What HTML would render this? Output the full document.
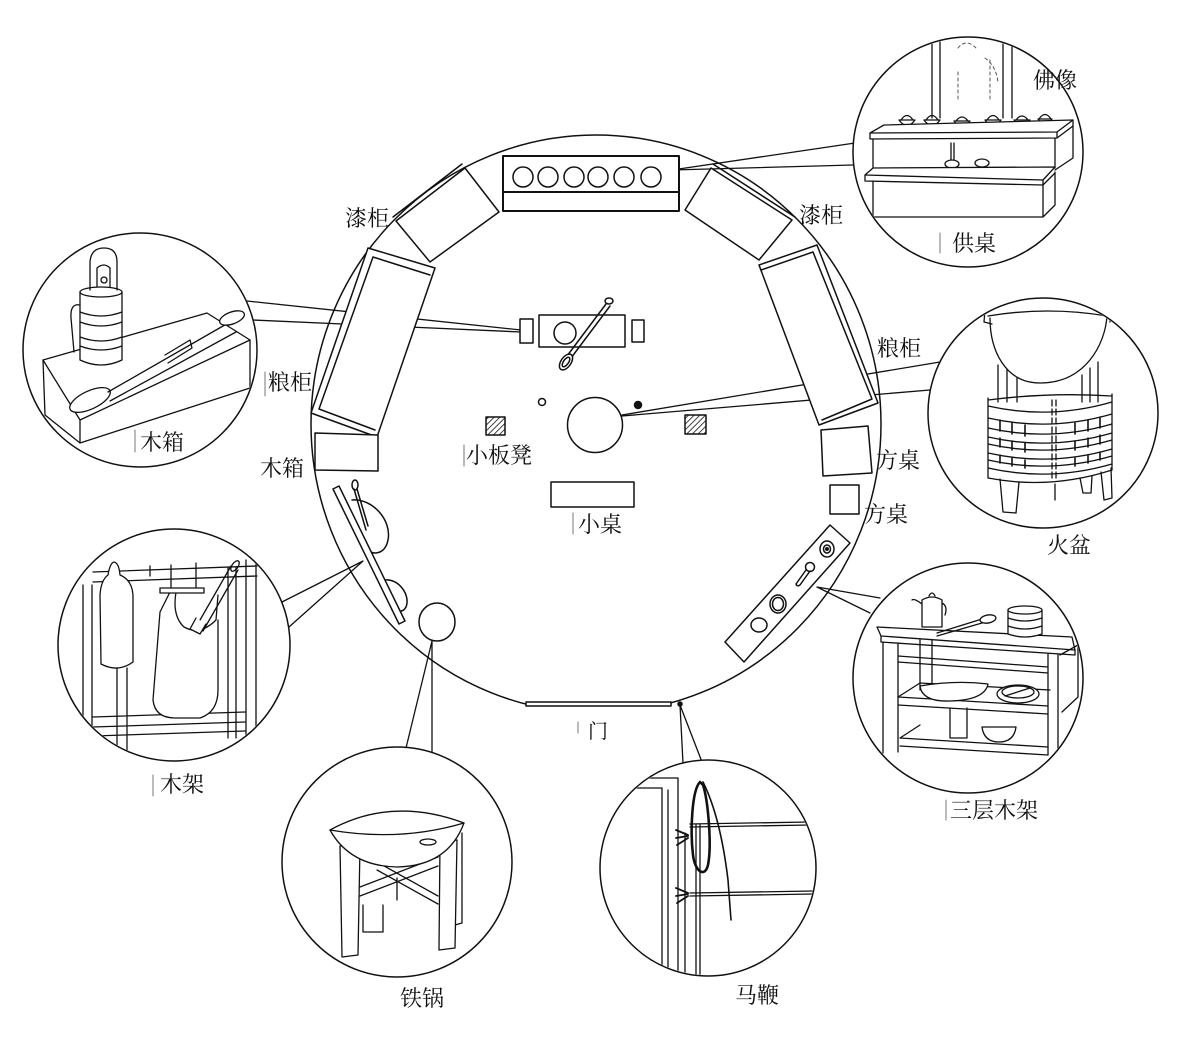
<!DOCTYPE html>
<html><head><meta charset="utf-8">
<style>
html,body{margin:0;padding:0;background:#fff;}
svg{display:block;}
text{font-family:"Liberation Serif","Noto Serif CJK SC","Noto Sans CJK SC",serif;font-size:22px;fill:#111;}
</style></head><body>
<svg width="1184" height="1059" viewBox="0 0 1184 1059" xmlns="http://www.w3.org/2000/svg">
<defs>
 <pattern id="hat" width="4" height="4" patternUnits="userSpaceOnUse" patternTransform="rotate(45)"><rect width="4" height="4" fill="#fff"/><line x1="0" y1="0" x2="0" y2="4" stroke="#111" stroke-width="1.6"/></pattern>
 <clipPath id="cA"><circle cx="968" cy="152" r="114"/></clipPath>
 <clipPath id="cB"><circle cx="140" cy="350" r="116"/></clipPath>
 <clipPath id="cC"><circle cx="1043" cy="413" r="114"/></clipPath>
 <clipPath id="cD"><circle cx="174" cy="645" r="115"/></clipPath>
 <clipPath id="cE"><circle cx="968" cy="678" r="114"/></clipPath>
 <clipPath id="cF"><circle cx="397" cy="862" r="114"/></clipPath>
 <clipPath id="cG"><circle cx="708" cy="868" r="107"/></clipPath>
</defs>
<rect width="1184" height="1059" fill="#fff"/>
<g fill="none" stroke="#111" stroke-width="1.5" stroke-linejoin="round" stroke-linecap="round">

<!-- connectors -->
<g stroke-width="1.3">
 <path d="M672,170 L855,143 M672,170 L853,165"/>
 <path d="M247,301 L521,330 M253,320 L521,332"/>
 <path d="M622,415 L940,362 M622,416 L930,390"/>
 <path d="M280,603 L363,561 M289,627 L363,561"/>
 <path d="M817,587 L880,598 M817,587 L870,613"/>
 <path d="M432,641 L432,753 M432,641 L406,748"/>
 <path d="M680,705 L683,763 M680,705 L702,762"/>
</g>

<!-- main circle -->
<ellipse cx="596" cy="424" rx="285" ry="289"/>
<rect x="527" y="706" width="143" height="10" fill="#fff" stroke="none"/>

<!-- top altar box -->
<rect x="503" y="156" width="176" height="55" fill="#fff" stroke-width="2"/>
<line x1="503" y1="192" x2="679" y2="192" stroke-width="2"/>
<circle cx="523" cy="177" r="10"/><circle cx="548" cy="177" r="10"/><circle cx="574" cy="177" r="10"/>
<circle cx="598" cy="177" r="10"/><circle cx="624" cy="177" r="10"/><circle cx="651" cy="177" r="10"/>

<!-- 漆柜 -->
<polygon points="396,221 465,168 499,212 430,262" fill="#fff"/>
<path d="M393,217 L462,164"/>
<polygon points="685,210 711,168 792,220 759,260" fill="#fff"/>
<path d="M713,164 L795,217"/>

<!-- 粮柜 -->
<polygon points="368,248 435,268 377,437 311,413" fill="#fff"/>
<polyline points="430,275 373,257 319,409 375,430"/>
<polygon points="759,265 817,245 878,403 819,425" fill="#fff"/>
<polyline points="761,270 813,252 872,399 822,420"/>

<!-- 木箱 main -->
<polygon points="315,433 378,435 378,471 315,470" fill="#fff"/>

<!-- 方桌 -->
<polygon points="821,430 868,426 872,473 823,476" fill="#fff"/>
<rect x="830" y="485" width="29" height="29" fill="#fff"/>

<!-- stove (三层木架 plan) -->
<polygon points="725,642 830,525 850,543 744,662" fill="#fff"/>
<ellipse cx="827" cy="549" rx="7" ry="8"/><ellipse cx="827" cy="549" rx="3.5" ry="4"/><circle cx="827" cy="549" r="1.2" fill="#111"/>
<circle cx="810" cy="567" r="4.5"/><path d="M806,570 L796,584 Q797,587 800,585 L810,571"/>
<ellipse cx="778" cy="604" rx="8" ry="9"/><ellipse cx="778" cy="604" rx="5.5" ry="6.5"/>
<ellipse cx="759" cy="625" rx="8" ry="7"/>

<!-- rack bar (木架 plan) -->
<path d="M352,500 C372,498 392,520 388,540 C385,555 372,556 365,548"/>
<path d="M385,580 C398,578 411,595 406,607 C403,613 396,612 392,610"/>
<polygon points="333,489 339,486 405,621 399,624" fill="#fff"/>
<ellipse cx="355" cy="485" rx="3" ry="5"/>
<path d="M354,489 L366,530 M357,489 L368,526"/>

<!-- 铁锅 plan -->
<ellipse cx="437" cy="622" rx="18" ry="19" fill="#fff"/>

<!-- spoon box -->
<rect x="539" y="315" width="86" height="32" fill="#fff"/>
<circle cx="565" cy="333" r="11"/>
<rect x="520" y="319" width="13" height="24" fill="#fff"/>
<rect x="632" y="320" width="12" height="22" fill="#fff"/>
<path d="M606,304 L567,356 M610,306 L571,358"/>
<ellipse cx="609" cy="301" rx="4" ry="3"/>
<ellipse cx="566" cy="362" rx="5" ry="9" transform="rotate(35 566 362)" fill="#fff"/>
<ellipse cx="566" cy="362" rx="2.5" ry="5.5" transform="rotate(35 566 362)"/>

<!-- small things -->
<circle cx="542" cy="402" r="3.5"/>
<circle cx="638" cy="405" r="3.5" fill="#111"/>
<circle cx="595" cy="425" r="27.5" fill="#fff"/>
<rect x="486" y="417" width="19" height="18" fill="url(#hat)"/>
<rect x="685" y="415" width="21" height="19" fill="url(#hat)"/>
<rect x="551" y="482" width="83" height="25" fill="#fff"/>

<!-- door -->
<rect x="526" y="702" width="145" height="4" fill="#fff"/>
<circle cx="680" cy="704" r="2" fill="#111"/>

<!-- vignette circles -->
<circle cx="968" cy="152" r="115" fill="#fff"/>
<circle cx="140" cy="350" r="117" fill="#fff"/>
<circle cx="1043" cy="413" r="115" fill="#fff"/>
<circle cx="174" cy="645" r="116" fill="#fff"/>
<circle cx="968" cy="678" r="115" fill="#fff"/>
<circle cx="397" cy="862" r="115" fill="#fff"/>
<circle cx="708" cy="868" r="108" fill="#fff"/>

<!-- A: 供桌 -->
<g clip-path="url(#cA)" stroke-width="1.3">
 <path d="M932,30 V118 M940,30 V118 M1003,30 V118 M1012,30 V118"/>
 <path d="M958,48 Q966,38 976,48 M985,58 Q996,66 998,82 M958,72 V100 M990,60 V100" stroke="#555" stroke-dasharray="3 3" stroke-width="1"/>
 <path d="M899,120 Q907,131 915,120 Z M901,120 Q907,111 913,120"/>
 <path d="M924,120 Q932,131 940,120 Z M926,120 Q932,111 938,120"/>
 <path d="M954,121 Q962,132 970,121 Z M956,121 Q962,113 968,121"/>
 <path d="M985,120 Q993,131 1001,120 Z M987,120 Q993,111 999,120"/>
 <path d="M1014,120 Q1022,130 1030,120 Z M1016,120 Q1022,112 1028,120"/>
 <path d="M1038,119 Q1045,129 1052,119 Z M1039,119 Q1045,110 1051,119"/>
 <path d="M870,133 L884,125 L1073,120 L1057,132 Z" fill="#fff"/>
 <path d="M870,133 V139 L1057,138 V132 M1057,138 L1073,126 V120"/>
 <path d="M873,139 V168 M1055,138 V168 M1073,126 V158 L1055,170"/>
 <path d="M951,143 V160 M954,143 V160"/>
 <ellipse cx="952" cy="164" rx="7" ry="4" fill="#fff"/>
 <ellipse cx="982" cy="163" rx="7" ry="4" fill="#fff"/>
 <path d="M865,175 L873,168 L1055,167 L1043,180 Z" fill="#fff"/>
 <path d="M865,175 V181 L1043,185 V180 M1043,185 L1055,173"/>
 <path d="M873,181 V217 L1043,217 V185 M1055,172 V205 L1043,217"/>
</g>

<!-- B: 木箱 -->
<g clip-path="url(#cB)" stroke-width="1.3">
 <path d="M43,360 L207,313 L250,340 L80,420 Z" fill="#fff"/>
 <path d="M43,360 L45,415 L80,443 L250,388 L250,340 M80,420 V443"/>
 <path d="M80,292 V360 Q101,370 122,360 V292" fill="#fff"/>
 <ellipse cx="101" cy="292" rx="21" ry="5" fill="#fff"/>
 <path d="M80,312 Q101,320 122,312 M80,322 Q101,330 122,322 M80,337 Q101,345 122,337 M80,346 Q101,354 122,346"/>
 <path d="M90,290 V262 Q91,248 104,248 Q117,248 117,262 V290"/>
 <path d="M97,287 V268 Q104,262 110,268 V287"/>
 <circle cx="104" cy="280" r="3"/>
 <path d="M80,305 Q70,303 71,318 L74,352"/>
 <ellipse cx="90" cy="400" rx="22" ry="9" transform="rotate(-25 90 400)" fill="#fff"/>
 <path d="M108,392 L230,322 M110,401 L236,332"/>
 <ellipse cx="232" cy="318" rx="13" ry="6" transform="rotate(-20 232 318)" fill="#fff"/>
 <path d="M165,355 L190,340 L192,348 L168,363"/>
</g>

<!-- C: 火盆 -->
<g clip-path="url(#cC)" stroke-width="1.3">
 <path d="M998,365 V402 M1007,365 V402 M1017,378 V402 M1082,375 V402 M1090,368 V402 M1098,362 V402"/>
 <path d="M988,316 Q1048,306 1107,316 C1105,345 1085,383 1040,383 C1005,383 990,350 990,318" fill="#fff"/>
 <path d="M985,310 L984,322 L992,324 M1102,312 L1110,312 L1110,322"/>
 <path d="M988,400 Q1050,392 1112,396"/>
 <path d="M988,406 Q1050,420 1112,402 M988,418 Q1050,432 1112,414 M988,428 Q1050,442 1112,424 M988,437 Q1050,451 1112,433 M988,444 Q1050,458 1112,440 M988,453 Q1050,467 1112,449 M988,460 Q1050,474 1112,456 M988,468 Q1050,482 1112,464"/>
 <path d="M1000,420 V431 M1012,423 V434 M1025,425 V436 M1075,423 V434 M1088,420 V431 M1100,417 V428 M1000,438 V447 M1012,441 V450 M1025,443 V452 M1075,441 V450 M1088,438 V447 M1100,435 V444 M1000,455 V463 M1012,458 V466 M1025,460 V468 M1075,458 V466 M1088,455 V463 M1100,452 V460" stroke-width="1.6"/>
 <path d="M988,398 V478 M1112,394 V470 M988,478 Q1050,490 1112,470"/>
 <path d="M1052,400 V480 M1056,400 V480" stroke-dasharray="6 3"/>
 <path d="M1000,479 L1003,512 L1016,513 L1019,482 M1080,478 L1083,493 L1091,493 L1092,476 M1101,472 L1104,500 L1112,498 L1111,468 M1055,484 V500"/>
</g>

<!-- D: 木架 -->
<g clip-path="url(#cD)" stroke-width="1.3">
 <path d="M83,585 V760 M92,585 V760"/>
 <path d="M93,572 L257,566 M93,582 L257,576"/>
 <path d="M228,568 V738 M236,568 V738 M246,560 V745 M256,560 V745"/>
 <path d="M93,717 L245,712 M93,727 L245,722 M93,736 L245,731"/>
 <path d="M117,668 V760 M127,668 V760"/>
 <path d="M108,575 Q110,563 114,562 Q119,563 120,575 Q132,580 133,595 L133,662 Q118,673 101,664 L100,595 Q101,580 108,575 Z" fill="#fff"/>
 <path d="M170,592 L160,612 L153,700 Q155,718 175,718 L200,718 Q218,712 218,690 L218,620" fill="#fff"/>
 <path d="M176,592 Q172,616 184,627 Q200,636 216,620 L218,595" fill="#fff"/>
 <rect x="160" y="588" width="44" height="5" fill="#fff"/>
 <path d="M171,565 V588 M196,563 V588 M150,566 V576"/>
 <path d="M231,566 L196,627 M238,570 L203,631"/>
 <ellipse cx="235" cy="566" rx="6" ry="3" transform="rotate(-55 235 566)"/>
 <path d="M196,618 L190,629 L200,634 L206,624" fill="#fff"/>
</g>

<!-- E: 三层木架 -->
<g clip-path="url(#cE)" stroke-width="1.3">
 <path d="M877,627 L1072,637 L1075,650 L881,636 Z" fill="#fff"/>
 <path d="M881,636 V642 L1075,655 V650"/>
 <path d="M883,642 V753 M898,643 V752 M1048,654 V755 M1058,655 V752"/>
 <path d="M1060,655 L1078,645 V697 L1062,712"/>
 <path d="M920,640 V690 M932,640 V690"/>
 <path d="M898,656 L1048,667 M898,662 L1048,673"/>
 <path d="M898,697 L920,683 L1050,690 M898,697 L1048,706 M898,705 L1048,714"/>
 <path d="M900,738 L920,725 M900,738 L1048,747 M900,746 L1048,755"/>
 <path d="M922,627 V600 Q932,594 942,600 V627 Z M922,604 Q914,598 912,600 M942,603 Q948,606 945,615" fill="#fff"/>
 <path d="M929,596 Q932,590 935,596"/>
 <path d="M937,633 L982,619 M937,636 L982,623"/>
 <ellipse cx="988" cy="619" rx="8" ry="4" transform="rotate(-10 988 619)" fill="#fff"/>
 <path d="M1008,610 V634 Q1025,640 1042,634 V610" fill="#fff"/>
 <ellipse cx="1025" cy="610" rx="17" ry="4" fill="#fff"/>
 <path d="M1008,618 Q1025,624 1042,618 M1008,626 Q1025,632 1042,626"/>
 <path d="M920,686 Q922,702 950,701 Q985,700 988,684 Q955,680 920,686 Z" fill="#fff"/>
 <ellipse cx="1018" cy="694" rx="21" ry="9" fill="#fff"/>
 <ellipse cx="1018" cy="692" rx="16" ry="6"/>
 <path d="M1005,696 L1030,688"/>
 <path d="M950,708 V738 H967 V708"/>
 <path d="M982,727 Q984,742 999,742 Q1014,742 1016,727 Z" fill="#fff"/>
</g>

<!-- F: 铁锅 -->
<g clip-path="url(#cF)" stroke-width="1.3">
 <path d="M455,836 V925 L462,923 V833"/>
 <path d="M363,905 V932 H383 V905"/>
 <path d="M360,887 L438,857 M360,896 L438,866 M377,862 L438,896 M377,870 L438,904 M397,878 V900"/>
 <path d="M340,846 L342,957 L358,955 L360,846 Z" fill="#fff"/>
 <path d="M440,842 L439,950 L455,948 L457,840 Z" fill="#fff"/>
 <path d="M330,830 Q350,866 397,867 Q448,866 464,823 Q400,842 330,830 Z" fill="#fff"/>
 <path d="M330,830 Q392,796 464,823"/>
 <ellipse cx="428" cy="842" rx="8" ry="3"/>
</g>

<!-- G: 马鞭 -->
<g clip-path="url(#cG)" stroke-width="1.3">
 <path d="M630,788 H662 V980 M648,778 H678 V980 M668,790 V980 M685,833 V980 M696,825 V980 M700,825 V980"/>
 <path d="M690,824 L810,822 M690,827 L810,825 M690,893 L815,891 M690,896 L815,894"/>
 <path d="M700,782 C692,790 690,830 693,855 C695,872 705,878 708,865 C712,845 708,800 703,785 Z" stroke-width="2.6"/>
 <path d="M703,782 C712,800 722,830 728,880 L731,920" stroke-width="1.6"/>
 <path d="M676,830 L688,835 M676,838 L688,836 M677,845 L688,838 M676,888 L688,893 M676,896 L688,894 M677,903 L688,896" stroke-width="1.8"/>
</g>

<!-- tick marks -->
<g stroke="#777" stroke-width="1">
 <path d="M940,233 V253 M135,430 V452 M265,372 V396 M464,445 V466 M573,513 V534 M153,775 V796 M946,800 V820 M578,722 V733"/>
</g>
</g>

<!-- labels -->
<text x="1033" y="88">佛像</text>
<text x="952" y="251">供桌</text>
<text x="345" y="226">漆柜</text>
<text x="799" y="223">漆柜</text>
<text x="268" y="390">粮柜</text>
<text x="877" y="356">粮柜</text>
<text x="140" y="450">木箱</text>
<text x="260" y="476">木箱</text>
<text x="876" y="468">方桌</text>
<text x="864" y="522">方桌</text>
<text x="466" y="463">小板凳</text>
<text x="578" y="532">小桌</text>
<text x="1047" y="553">火盆</text>
<text x="160" y="792">木架</text>
<text x="950" y="818">三层木架</text>
<text x="588" y="738" style="font-size:20px">门</text>
<text x="400" y="1006">铁锅</text>
<text x="735" y="1003">马鞭</text>
</svg>
</body></html>
